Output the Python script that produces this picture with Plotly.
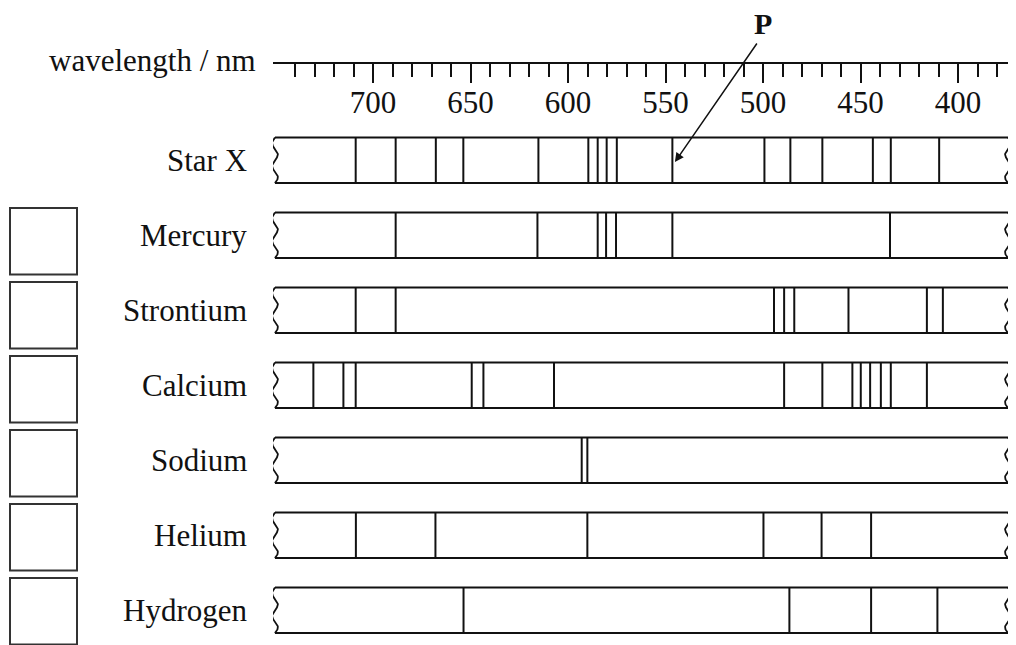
import numpy as np
import plotly.graph_objects as go

# ---- data (wavelengths in nm) ----
spectra_names = ["Star X", "Mercury", "Strontium", "Calcium", "Sodium", "Helium", "Hydrogen"]
star_x = [708.9, 688.4, 667.8, 653.7, 615.2, 589.6, 584.8, 580.2, 575.0, 546.5,
          499.3, 486.0, 469.6, 443.7, 434.5, 409.7]
mercury = [688.4, 615.7, 584.8, 580.5, 575.4, 546.5, 434.9]
strontium = [708.9, 688.4, 494.4, 489.2, 484.0, 456.2, 416.0, 407.8]
calcium = [730.6, 715.2, 708.9, 649.4, 643.4, 607.2, 489.2, 469.6, 454.2, 449.9,
           445.1, 439.6, 434.5, 416.0]
sodium = [593.0, 590.1]
helium = [708.8, 668.0, 590.1, 499.8, 470.0, 444.6]
hydrogen = [653.6, 486.5, 444.6, 410.6]
spectra = [star_x, mercury, strontium, calcium, sodium, helium, hydrogen]

major_ticks = [700, 650, 600, 550, 500, 450, 400]
major_labels = ["700", "650", "600", "550", "500", "450", "400"]
minor_ticks = [v for v in range(740, 375, -10) if v not in major_ticks]
band_start, band_end = 750.3, 374.4
p_line = 546.5

# ---- layout constants (page pixels) ----
W, H = 1016, 645
OFF = 8  # page body margin offset
X_LEFT, X_RIGHT = 273, 1008
AXIS_Y = 63.3
BAND_TOP0, BAND_PITCH, BAND_H = 137.5, 75, 45.5
BOX_TOP0, BOX_PITCH, BOX_SIZE = 208, 74, 66.5
FONT = "Liberation Serif"
INK = "#111111"


def px(x):
    return (x - OFF) / W


fig = go.Figure()

for i, (name, lines) in enumerate(zip(spectra_names, spectra)):
    top = BAND_TOP0 + i * BAND_PITCH
    bot = top + BAND_H
    fig.add_trace(go.Scatter(
        x=[band_start, band_end, None, band_start, band_end],
        y=[top, top, None, bot, bot],
        mode="lines", line=dict(color=INK, width=2), hoverinfo="skip", showlegend=False))
    t = np.linspace(0, 1, 60)
    amp = 1.5
    for edge, sgn in ((band_start, 1), (band_end, -1)):
        fig.add_trace(go.Scatter(
            x=edge + sgn * amp * np.sin(2 * np.pi * 2 * t),
            y=top + t * BAND_H,
            mode="lines", line=dict(color=INK, width=1.8), hoverinfo="skip", showlegend=False))
    xs, ys = [], []
    for w in lines:
        xs += [w, w, None]
        ys += [top, bot, None]
    fig.add_trace(go.Scatter(x=xs, y=ys, mode="lines", line=dict(color=INK, width=2),
                             hoverinfo="skip", showlegend=False))
    fig.add_annotation(x=px(249), y=top + BAND_H / 2, xref="paper", yref="y",
                       text=name, showarrow=False, xanchor="right", yanchor="middle",
                       font=dict(family=FONT, size=31, color=INK))
    if i > 0:
        by = BOX_TOP0 + (i - 1) * BOX_PITCH
        fig.add_shape(type="rect", xref="paper", yref="y",
                      x0=px(10), x1=px(77), y0=by, y1=by + BOX_SIZE,
                      line=dict(color="#333333", width=2), fillcolor="rgba(0,0,0,0)")

fig.add_trace(go.Scatter(x=[band_start, band_end], y=[AXIS_Y, AXIS_Y], xaxis="x2", yaxis="y",
                         mode="markers", marker=dict(opacity=0), hoverinfo="skip", showlegend=False))

fig.add_annotation(x=px(258), y=AXIS_Y - 3, xref="paper", yref="y", text="wavelength / nm",
                   showarrow=False, xanchor="right", yanchor="middle",
                   font=dict(family=FONT, size=31, color=INK))

fig.add_annotation(x=p_line - 1.3, y=162, xref="x", yref="y", ax=83, ay=-120,
                   text="", showarrow=True, arrowhead=2, arrowsize=1.2, arrowwidth=1.5,
                   arrowcolor=INK)
fig.add_annotation(x=px(763), y=23, xref="paper", yref="y", text="<b>P</b>", showarrow=False,
                   xanchor="center", yanchor="middle", font=dict(family=FONT, size=30, color=INK))

dom = [px(X_LEFT), px(X_RIGHT)]
fig.update_layout(
    width=W, height=H, margin=dict(l=0, r=0, t=0, b=0),
    paper_bgcolor="white", plot_bgcolor="white",
    xaxis=dict(domain=dom, range=[751.3, 374.4], visible=False, fixedrange=True),
    yaxis=dict(domain=[0, 1], range=[H + OFF, OFF], visible=False, fixedrange=True),
    xaxis2=dict(domain=dom, range=[751.3, 374.4], overlaying="x", anchor="free",
                position=1 - (AXIS_Y - OFF) / H, side="bottom", showgrid=False, zeroline=False,
                showline=True, linecolor=INK, linewidth=2,
                ticks="outside", ticklen=19, tickwidth=2, tickcolor=INK,
                tickvals=major_ticks, ticktext=major_labels, ticklabelstandoff=-8,
                tickfont=dict(family=FONT, size=31, color=INK),
                minor=dict(tickvals=minor_ticks, ticks="outside", ticklen=13,
                           tickwidth=2, tickcolor=INK, showgrid=False)),
    showlegend=False,
)

fig.write_html("out.html")
